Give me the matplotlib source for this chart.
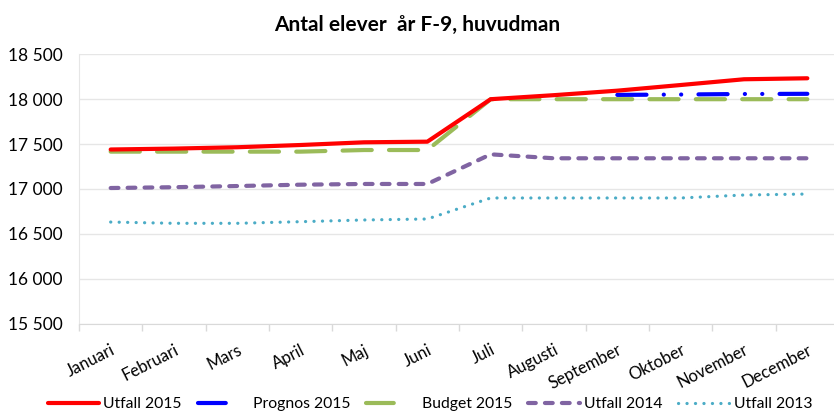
import numpy as np
import matplotlib
matplotlib.use("Agg")
import matplotlib.pyplot as plt
from matplotlib.lines import Line2D

plt.rcParams['font.family'] = ['Lato', 'DejaVu Sans']
plt.rcParams['lines.scale_dashes'] = False

# --- data ---
months = ["Januari", "Februari", "Mars", "April", "Maj", "Juni", "Juli",
          "Augusti", "September", "Oktober", "November", "December"]
utfall_2015 = [17440, 17450, 17465, 17490, 17520, 17527, 18000,
               18045, 18095, 18158, 18222, 18233]
prognos_2015 = [None, None, None, None, None, None, None, None,
                18048, 18052, 18058, 18060]
budget_2015 = [17416, 17416, 17416, 17416, 17434, 17434, 18000,
               18000, 18000, 18000, 18000, 18000]
utfall_2014 = [17011, 17020, 17033, 17048, 17056, 17056, 17386,
               17342, 17342, 17342, 17342, 17342]
utfall_2013 = [16632, 16618, 16618, 16636, 16655, 16666, 16900,
               16900, 16900, 16900, 16933, 16944]

yticks = [15500, 16000, 16500, 17000, 17500, 18000, 18500]

fig = plt.figure(figsize=(8.34, 4.15), dpi=100)
ax = fig.add_axes([79 / 834, 1 - 323.7 / 415, 760 / 834, 269.4 / 415])

x = np.arange(len(months))
prog = np.array([np.nan if v is None else v for v in prognos_2015], dtype=float)

ax.plot(x, utfall_2013, color='#4bacc6', lw=2.3, dashes=(0.1, 6.0),
        dash_capstyle='round', zorder=2)
ax.plot(x, utfall_2014, color='#8064a2', lw=3, dashes=(5.6, 6.6),
        dash_capstyle='round', zorder=3)
ax.plot(x, budget_2015, color='#9bbb59', lw=3, dashes=(21, 12.4),
        dash_capstyle='round', zorder=4)
ax.plot(x, prog, color='#0000ff', lw=3,
        dashes=(21, 12.4, 0.1, 12.4, 0.1, 12.4),
        dash_capstyle='round', zorder=5)
ax.plot(x, utfall_2015, color='#ff0000', lw=3, solid_capstyle='round',
        zorder=6)

ax.set_xlim(-0.5, len(months) - 0.5)
ax.set_ylim(15500, 18500)
ax.set_yticks(yticks)
ax.set_yticklabels([f"{v:,}".replace(",", " ") for v in yticks], fontsize=12.5)
ax.tick_params(axis='y', length=0, pad=12)
ax.yaxis.grid(True, color='#e6e6e6', lw=1)
ax.set_axisbelow(True)

ax.set_xticks(x)
ax.set_xticklabels(months, fontsize=12, rotation=27, ha='right',
                   rotation_mode='anchor')
ax.tick_params(axis='x', which='major', length=0, pad=13)
ax.set_xticks(np.arange(-0.5, len(months)), minor=True)
ax.tick_params(axis='x', which='minor', length=5, color='#d9d9d9', width=1)

for s in ['top', 'right']:
    ax.spines[s].set_visible(False)
ax.spines['left'].set_color('#e6e6e6')
ax.spines['bottom'].set_color('#d9d9d9')

fig.text(0.5, 1 - 25 / 415, "Antal elever  år F-9, huvudman", ha='center',
         va='center', fontsize=15, fontweight='bold')

# legend samples as Excel shows them (dashed series show one dash only)
leg_handles = [
    Line2D([], [], color='#ff0000', lw=3, solid_capstyle='round'),
    Line2D([], [], color='#0000ff', lw=3, dashes=(20, 100), dash_capstyle='round'),
    Line2D([], [], color='#9bbb59', lw=3, dashes=(20, 100), dash_capstyle='round'),
    Line2D([], [], color='#8064a2', lw=3, dashes=(5.6, 6.6), dash_capstyle='round'),
    Line2D([], [], color='#4bacc6', lw=2.3, dashes=(0.1, 6.0), dash_capstyle='round'),
]
leg_labels = ["Utfall 2015", "Prognos 2015", "Budget 2015", "Utfall 2014", "Utfall 2013"]
ax.legend(leg_handles, leg_labels,
          loc='center', bbox_to_anchor=(430 / 834, 1 - 404 / 415),
          bbox_transform=fig.transFigure, ncol=5, frameon=False,
          fontsize=11.3, handlelength=3.3, handletextpad=0.25,
          columnspacing=1.0, borderaxespad=0)

fig.savefig("out.png", dpi=100)
